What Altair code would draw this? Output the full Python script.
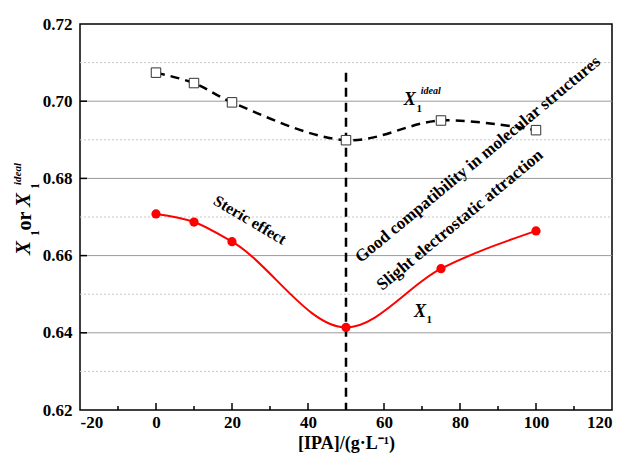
import altair as alt
import pandas as pd

# ---- data ----
ipa = [0, 10, 20, 50, 75, 100]
x1 = [0.6708, 0.6687, 0.6636, 0.6414, 0.6566, 0.6664]
x1_ideal = [0.7074, 0.7047, 0.6997, 0.6899, 0.6950, 0.6925]

x_ticks = [-20, 0, 20, 40, 60, 80, 100, 120]
x_major_inner = [0, 20, 40, 60, 80, 100]
x_minor = [-10, 10, 30, 50, 70, 90, 110]
y_ticks = [0.62, 0.64, 0.66, 0.68, 0.70, 0.72]
y_major_inner = [0.64, 0.66, 0.68, 0.70]
y_minor = [0.63, 0.65, 0.67, 0.69, 0.71]

divider_x = [50]
divider_top = [0.7074]
divider_bottom = [0.62]

annot_text = ["Steric effect", "Good compatibility in molecular structures",
              "Slight electrostatic attraction"]
annot_x = [24.7, 84.7, 80.0]
annot_y = [0.6692, 0.6849, 0.6692]
annot_angle = [30.6, 320.3, 320.3]
annot_size = [16, 17, 17]

W, H = 532, 386
FONT = "Liberation Serif"

xs = alt.Scale(domain=[-20, 120], nice=False)
ys = alt.Scale(domain=[0.62, 0.72], nice=False, zero=False)

xaxis = alt.Axis(values=x_ticks, title="[IPA]/(g·L⁻¹)", grid=False, ticks=False,
                 domain=False, labelPadding=4, titlePadding=4, format="d",
                 labelExpr="replace(datum.label, '\u2212', '-')")
yaxis = alt.Axis(values=y_ticks, title=None, grid=False, ticks=False,
                 domain=False, labelPadding=8, format=".2f")


def X(field):
    return alt.X(field, type="quantitative", scale=xs, axis=xaxis)


def Y(field):
    return alt.Y(field, type="quantitative", scale=ys, axis=yaxis)


series = pd.DataFrame({"ipa": ipa, "x1": x1, "ideal": x1_ideal})

minor_grid = alt.Chart(pd.DataFrame({"y": y_minor})).mark_rule(
    color="#c8c8c8", strokeWidth=1, strokeDash=[2, 2]
).encode(y=Y("y"), x=alt.value(0), x2=alt.value(W))

major_grid = alt.Chart(pd.DataFrame({"y": y_major_inner})).mark_rule(
    color="#9a9a9a", strokeWidth=1
).encode(y=Y("y"), x=alt.value(0), x2=alt.value(W))

divider = alt.Chart(pd.DataFrame({"x": divider_x, "y": divider_top, "y2": divider_bottom})).mark_rule(
    color="black", strokeWidth=2.5, strokeDash=[9, 6]
).encode(x=X("x"), y=Y("y"), y2="y2")

ideal_line = alt.Chart(series).mark_line(
    color="black", strokeWidth=2.5, strokeDash=[9, 6], interpolate="catmull-rom"
).encode(x=X("ipa"), y=Y("ideal"))

ideal_pts = alt.Chart(series).mark_point(
    shape="square", size=90, filled=True, fill="white", stroke="#333333", strokeWidth=1, opacity=1
).encode(x=X("ipa"), y=Y("ideal"))

x1_line = alt.Chart(series).mark_line(
    color="#ff0000", strokeWidth=2, interpolate="monotone"
).encode(x=X("ipa"), y=Y("x1"))

x1_pts = alt.Chart(series).mark_circle(
    size=85, color="#ff0000", opacity=1
).encode(x=X("ipa"), y=Y("x1"))

xt_major = alt.Chart(pd.DataFrame({"x": x_major_inner})).mark_rule(
    color="black", strokeWidth=1.5
).encode(x=X("x"), y=alt.value(H), y2=alt.value(H - 7))

xt_minor = alt.Chart(pd.DataFrame({"x": x_minor})).mark_rule(
    color="black", strokeWidth=1.5
).encode(x=X("x"), y=alt.value(H), y2=alt.value(H - 4))

yt_major = alt.Chart(pd.DataFrame({"y": y_major_inner})).mark_rule(
    color="black", strokeWidth=1.5
).encode(y=Y("y"), x=alt.value(0), x2=alt.value(7))

annots = []
for t, ax, ay, ang, sz in zip(annot_text, annot_x, annot_y, annot_angle, annot_size):
    annots.append(
        alt.Chart(pd.DataFrame({"t": [t], "x": [ax], "y": [ay]})).mark_text(
            font=FONT, fontWeight="bold", fontSize=sz, angle=ang,
            align="center", baseline="middle", color="black"
        ).encode(x=X("x"), y=Y("y"), text="t:N")
    )


def label(text, x, y, size, italic=True, bold=True):
    return alt.Chart(pd.DataFrame({"t": [text], "x": [x], "y": [y]})).mark_text(
        font=FONT, fontSize=size, fontStyle="italic" if italic else "normal",
        fontWeight="bold" if bold else "normal", align="center", baseline="middle",
        color="black"
    ).encode(x=X("x"), y=Y("y"), text="t:N")


# in-plot series labels (data coordinates)
labels = [
    label("X", 66.8, 0.7004, 18),
    label("1", 69.3, 0.6980, 11, italic=False),
    label("ideal", 72.3, 0.7026, 10),
    label("X", 69.5, 0.6455, 18),
    label("1", 71.9, 0.6432, 11, italic=False),
]


def ylabel(text, px, py, size, italic=True):
    return alt.Chart(pd.DataFrame({"t": [text]})).mark_text(
        font=FONT, fontSize=size, fontStyle="italic" if italic else "normal",
        fontWeight="bold", align="center", baseline="middle", angle=270, color="black"
    ).encode(x=alt.value(px), y=alt.value(py), text="t:N")


ytitle = [
    ylabel("X", -56, 224, 21),
    ylabel("1", -45, 209, 12, italic=False),
    ylabel("or", -55, 197, 20, italic=False),
    ylabel("X", -56, 176, 21),
    ylabel("1", -45, 162, 12, italic=False),
    ylabel("ideal", -62, 150, 11),
]

chart = alt.layer(
    minor_grid, major_grid, divider, ideal_line, ideal_pts, x1_line, x1_pts,
    xt_major, xt_minor, yt_major, *annots, *labels, *ytitle
).properties(
    width=W, height=H,
    autosize=alt.AutoSizeParams(type="none"),
    padding={"left": 72, "top": 16, "right": 2, "bottom": 45},
).configure_view(
    stroke="black", strokeWidth=1.5
).configure_axis(
    labelFont=FONT, labelFontSize=17, labelFontWeight="bold", labelColor="black",
    titleFont=FONT, titleFontSize=18, titleFontWeight="bold", titleColor="black",
)

chart.save("out.html", embed_options={"renderer": "svg", "actions": False})
